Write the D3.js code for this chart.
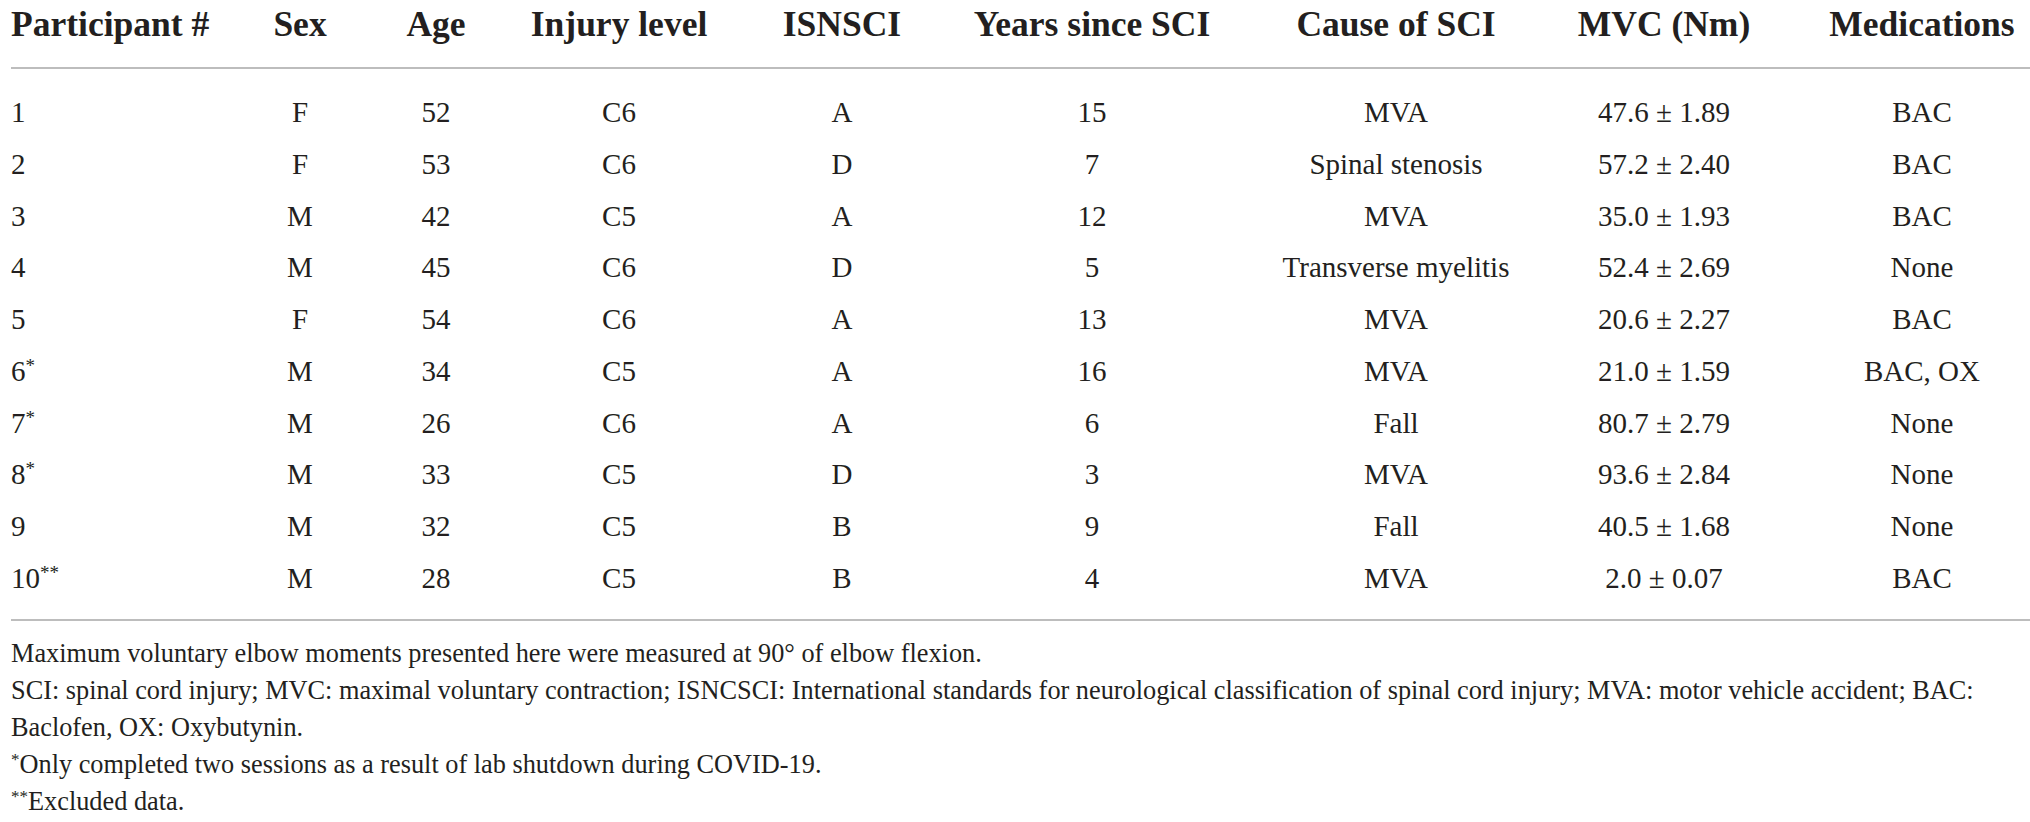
<html lang="en">
<head>
<meta charset="UTF-8">
<script src="https://d3js.org/d3.v7.min.js"></script>
<style>
    body { margin: 0; background: #ffffff; }
    svg text { font-family: "Liberation Serif", "Times New Roman", serif; fill: #231f20; }
</style>
</head>
<body>
<div id="table"></div>
<script>
    // table content
    const headers = ["Participant #", "Sex", "Age", "Injury level", "ISNSCI", "Years since SCI", "Cause of SCI", "MVC (Nm)", "Medications"];
    const participants = ["1", "2", "3", "4", "5", "6", "7", "8", "9", "10"];
    const participantMarks = ["", "", "", "", "", "*", "*", "*", "", "**"];
    const sex = ["F", "F", "M", "M", "F", "M", "M", "M", "M", "M"];
    const age = [52, 53, 42, 45, 54, 34, 26, 33, 32, 28];
    const injuryLevel = ["C6", "C6", "C5", "C6", "C6", "C5", "C6", "C5", "C5", "C5"];
    const isnsci = ["A", "D", "A", "D", "A", "A", "A", "D", "B", "B"];
    const yearsSince = [15, 7, 12, 5, 13, 16, 6, 3, 9, 4];
    const cause = ["MVA", "Spinal stenosis", "MVA", "Transverse myelitis", "MVA", "MVA", "Fall", "MVA", "Fall", "MVA"];
    const mvcMean = [47.6, 57.2, 35.0, 52.4, 20.6, 21.0, 80.7, 93.6, 40.5, 2.0];
    const mvcSd = [1.89, 2.40, 1.93, 2.69, 2.27, 1.59, 2.79, 2.84, 1.68, 0.07];
    const medications = ["BAC", "BAC", "BAC", "None", "BAC", "BAC, OX", "None", "None", "None", "BAC"];
    const footnotes = [
        "Maximum voluntary elbow moments presented here were measured at 90\u00b0 of elbow flexion.",
        "SCI: spinal cord injury; MVC: maximal voluntary contraction; ISNCSCI: International standards for neurological classification of spinal cord injury; MVA: motor vehicle accident; BAC:",
        "Baclofen, OX: Oxybutynin.",
        "*Only completed two sessions as a result of lab shutdown during COVID-19.",
        "**Excluded data."
    ];

    const W = 2030, H = 822;
    const svg = d3.select("#table").append("svg")
        .attr("width", W)
        .attr("height", H);

    // column centres (first column is left aligned)
    const colX = d3.scaleOrdinal()
        .domain(headers)
        .range([11, 300, 436, 619, 842, 1092, 1396, 1664, 1922]);

    const rowY = d3.scaleLinear().domain([0, participants.length - 1]).range([122, 588]);

    // header
    svg.append("g").selectAll("text")
        .data(headers)
        .enter()
        .append("text")
        .attr("x", d => colX(d))
        .attr("y", 36)
        .attr("text-anchor", (d, i) => i === 0 ? "start" : "middle")
        .style("font-size", "35.5px")
        .style("font-weight", "bold")
        .text(d => d);

    // rules
    [68, 620].forEach(y => {
        svg.append("line")
            .attr("x1", 11).attr("x2", 2030)
            .attr("y1", y).attr("y2", y)
            .attr("stroke", "#bdbdbd")
            .attr("stroke-width", 2);
    });

    const rows = participants.map((p, i) => [
        p,
        sex[i],
        String(age[i]),
        injuryLevel[i],
        isnsci[i],
        String(yearsSince[i]),
        cause[i],
        mvcMean[i].toFixed(1) + " \u00b1 " + mvcSd[i].toFixed(2),
        medications[i]
    ]);

    const rowG = svg.append("g").selectAll("g")
        .data(rows)
        .enter()
        .append("g")
        .attr("transform", (d, i) => `translate(0,${rowY(i)})`);

    rowG.selectAll("text")
        .data((d, i) => d.map((v, j) => ({v: v, col: headers[j], j: j, row: i})))
        .enter()
        .append("text")
        .attr("x", d => colX(d.col))
        .attr("text-anchor", d => d.j === 0 ? "start" : "middle")
        .style("font-size", "29px")
        .each(function(d) {
            const t = d3.select(this);
            t.append("tspan").text(d.v);
            if (d.j === 0 && participantMarks[d.row]) {
                t.append("tspan")
                    .attr("dy", -9)
                    .style("font-size", "19px")
                    .text(participantMarks[d.row]);
            }
        });

    // footnotes
    const noteY = d3.scaleLinear().domain([0, footnotes.length - 1]).range([662, 810]);
    svg.append("g").selectAll("text")
        .data(footnotes)
        .enter()
        .append("text")
        .attr("x", 11)
        .attr("y", (d, i) => noteY(i))
        .style("font-size", "26.3px")
        .each(function(d) {
            const t = d3.select(this);
            const m = d.match(/^(\*+)(.*)$/);
            if (m) {
                t.append("tspan").attr("dy", -8).style("font-size", "17px").text(m[1]);
                t.append("tspan").attr("dy", 8).text(m[2]);
            } else {
                t.text(d);
            }
        });
</script>
</body>
</html>
